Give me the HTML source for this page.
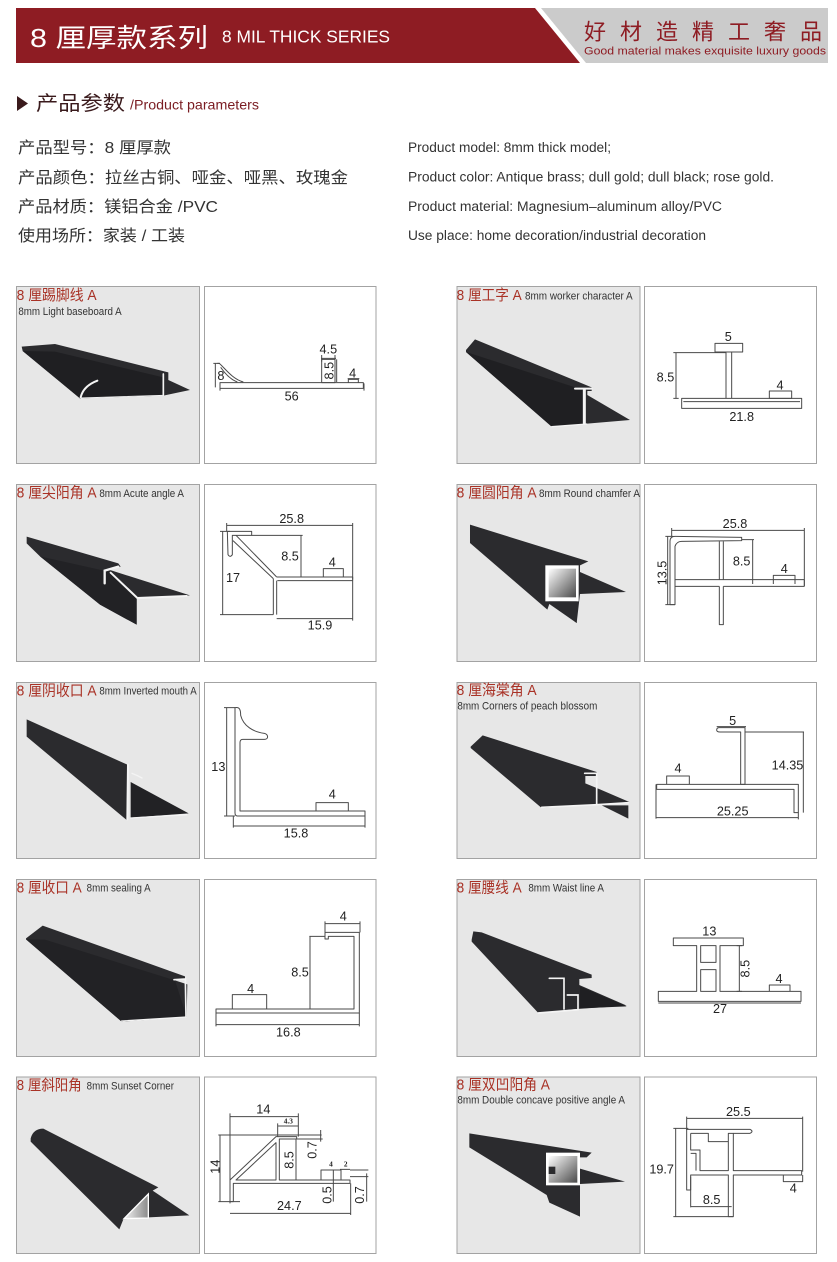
<!DOCTYPE html>
<html>
<head>
<meta charset="utf-8">
<style>
html,body{margin:0;padding:0;background:#fff;}
svg{display:block;}
.d{fill:none;stroke:#4a4a4a;stroke-width:3;stroke-linejoin:round;}
.t{font-family:"Liberation Sans",sans-serif;font-size:38px;fill:#222;}
.tt{font-family:"Liberation Sans","Noto Sans CJK SC",sans-serif;font-size:45px;fill:#a93226;}
.st{font-family:"Liberation Sans",sans-serif;font-size:32px;fill:#333;}
.ph{fill:#2b2b2e;}
.wh{fill:none;stroke:#f4f4f4;stroke-linecap:round;}
.sm{font-family:"Liberation Serif",serif;font-weight:bold;font-size:22px;fill:#222;}
</style>
</head>
<body>
<svg xmlns="http://www.w3.org/2000/svg" width="837" height="1262" viewBox="0 0 837 1262" font-family="'Liberation Sans','Noto Sans CJK SC',sans-serif">
<defs>
<linearGradient id="g1" x1="0" y1="0" x2="1" y2="1"><stop offset="0" stop-color="#ffffff"/><stop offset="1" stop-color="#4a4a4a"/></linearGradient>
<linearGradient id="g2" x1="0" y1="0" x2="1" y2="0"><stop offset="0" stop-color="#f2f2f2"/><stop offset="1" stop-color="#8a8a8a"/></linearGradient>
</defs>
<rect width="837" height="1262" fill="#fff"/>

<!-- Header -->
<polygon points="16,8 535,8 580,63 16,63" fill="#8e1c23"/>
<polygon points="541,8 828,8 828,63 586,63" fill="#cbcbcb"/>
<text x="30" y="47" font-family="'Liberation Sans','Noto Sans CJK SC',sans-serif" font-size="26" fill="#fff" textLength="178" lengthAdjust="spacingAndGlyphs">8 厘厚款系列</text>
<text x="222" y="42.7" font-family="'Liberation Sans',sans-serif" font-size="17.5" fill="#fff" textLength="168" lengthAdjust="spacingAndGlyphs">8 MIL THICK SERIES</text>
<text x="584" y="39.5" font-family="'Noto Sans CJK SC',sans-serif" font-size="22" fill="#8e1c23" textLength="238" lengthAdjust="spacing">好材造精工奢品</text>
<text x="584" y="54.3" font-family="'Liberation Sans',sans-serif" font-size="11" fill="#8e1c23" textLength="242" lengthAdjust="spacingAndGlyphs">Good material makes exquisite luxury goods</text>

<!-- Section heading -->
<polygon points="17,96 28,103.5 17,111" fill="#3a1a1c"/>
<text x="36" y="110" font-family="'Noto Sans CJK SC',sans-serif" font-size="20" fill="#3a1a1c" textLength="89" lengthAdjust="spacingAndGlyphs">产品参数</text>
<text x="130" y="109.5" font-family="'Liberation Sans',sans-serif" font-size="14" fill="#7a1c22" textLength="129" lengthAdjust="spacingAndGlyphs">/Product parameters</text>

<!-- Params -->
<g font-family="'Liberation Sans','Noto Sans CJK SC',sans-serif" font-size="16" fill="#333">
<text x="18" y="153" textLength="153" lengthAdjust="spacingAndGlyphs">产品型号：8 厘厚款</text>
<text x="18" y="183" textLength="330" lengthAdjust="spacingAndGlyphs">产品颜色：拉丝古铜、哑金、哑黑、玫瑰金</text>
<text x="18" y="212" textLength="200" lengthAdjust="spacingAndGlyphs">产品材质：镁铝合金 /PVC</text>
<text x="18" y="241" textLength="167" lengthAdjust="spacingAndGlyphs">使用场所：家装 / 工装</text>
</g>
<g font-family="'Liberation Sans',sans-serif" font-size="13.5" fill="#333">
<text x="408" y="152" textLength="203" lengthAdjust="spacingAndGlyphs">Product model: 8mm thick model;</text>
<text x="408" y="181.5" textLength="366" lengthAdjust="spacingAndGlyphs">Product color: Antique brass; dull gold; dull black; rose gold.</text>
<text x="408" y="211" textLength="314" lengthAdjust="spacingAndGlyphs">Product material: Magnesium–aluminum alloy/PVC</text>
<text x="408" y="240" textLength="298" lengthAdjust="spacingAndGlyphs">Use place: home decoration/industrial decoration</text>
</g>

<!-- Boxes -->
<g stroke="#a3a3a3" stroke-width="1">
<rect x="16.5" y="286.5" width="183" height="177" fill="#e7e7e7"/>
<rect x="204.5" y="286.5" width="171.5" height="177" fill="#fff"/>
<rect x="457" y="286.5" width="183" height="177" fill="#e7e7e7"/>
<rect x="644.5" y="286.5" width="172" height="177" fill="#fff"/>

<rect x="16.5" y="484.5" width="183" height="177" fill="#e7e7e7"/>
<rect x="204.5" y="484.5" width="171.5" height="177" fill="#fff"/>
<rect x="457" y="484.5" width="183" height="177" fill="#e7e7e7"/>
<rect x="644.5" y="484.5" width="172" height="177" fill="#fff"/>

<rect x="16.5" y="682.5" width="183" height="176" fill="#e7e7e7"/>
<rect x="204.5" y="682.5" width="171.5" height="176" fill="#fff"/>
<rect x="457" y="682.5" width="183" height="176" fill="#e7e7e7"/>
<rect x="644.5" y="682.5" width="172" height="176" fill="#fff"/>

<rect x="16.5" y="879.5" width="183" height="177" fill="#e7e7e7"/>
<rect x="204.5" y="879.5" width="171.5" height="177" fill="#fff"/>
<rect x="457" y="879.5" width="183" height="177" fill="#e7e7e7"/>
<rect x="644.5" y="879.5" width="172" height="177" fill="#fff"/>

<rect x="16.5" y="1077" width="183" height="176.5" fill="#e7e7e7"/>
<rect x="204.5" y="1077" width="171.5" height="176.5" fill="#fff"/>
<rect x="457" y="1077" width="183" height="176.5" fill="#e7e7e7"/>
<rect x="644.5" y="1077" width="172" height="176.5" fill="#fff"/>
</g>

<!-- ROW 1 LEFT -->
<g transform="translate(0,280) scale(0.333333)">
<text class="tt" x="50" y="60" textLength="240" lengthAdjust="spacingAndGlyphs">8 厘踢脚线 A</text>
<text class="st" x="55" y="105" textLength="310" lengthAdjust="spacingAndGlyphs">8mm Light baseboard A</text>
<polygon class="ph" points="65,200 165,192 505,277 505,300 570,330 490,347 240,355 68,213"/>
<polygon fill="#1f1f22" points="68,213 165,215 490,292 490,347 240,355"/>
<path class="wh" stroke-width="6" d="M292,302 Q250,318 242,352"/>
<path class="wh" stroke-width="5" d="M490,282 L490,345"/>
<path class="wh" stroke-width="3" d="M244,354 L490,346"/>
<!-- drawing -->
<rect class="d" x="660" y="308" width="430" height="17"/>
<path class="d" d="M652,250 L658,250 C676,266 696,296 730,306"/>
<path class="d" d="M662,262 C673,278 690,298 712,306"/>
<path class="d" d="M646,250 L646,322 M640,250 L660,250"/>
<text class="t" x="652" y="300" font-size="36">8</text>
<rect class="d" x="965" y="238" width="40" height="70"/>
<path class="d" d="M963,235 L1008,235 M965,225 L965,245 M1005,225 L1005,245 M1010,238 L1010,306"/>
<text class="t" x="985" y="220" text-anchor="middle" font-size="36">4.5</text>
<text class="t" transform="translate(1000,272) rotate(-90)" text-anchor="middle" font-size="34">8.5</text>
<path class="d" d="M1045,308 L1045,298 L1075,298 L1075,308 M1043,296 L1078,296"/>
<text class="t" x="1058" y="292" text-anchor="middle" font-size="36">4</text>
<path class="d" d="M660,310 L660,332 M1092,310 L1092,332"/>
<text class="t" x="875" y="362" text-anchor="middle" font-size="40">56</text>
</g>

<!-- ROW 1 RIGHT -->
<g transform="translate(440,280) scale(0.333333)">
<text class="tt" x="50" y="60" textLength="195" lengthAdjust="spacingAndGlyphs">8 厘工字 A</text>
<text class="st" x="255" y="58" textLength="323" lengthAdjust="spacingAndGlyphs">8mm worker character A</text>
<polygon class="ph" points="78,210 105,178 455,322 455,333 442,333 442,345 570,420 335,440 78,216"/>
<polygon fill="#1f1f22" points="78,216 335,440 430,432 430,330"/>
<path class="wh" stroke-width="6" d="M405,326 L455,326"/>
<path class="wh" stroke-width="9" d="M433,330 L433,430"/>
<path class="wh" stroke-width="4" d="M335,440 L440,432"/>
<!-- drawing -->
<path class="d" d="M708,218 L858,218 M708,218 L708,355 M700,218 L716,218 M700,355 L716,355"/>
<path class="d" d="M858,216 L858,355 M875,216 L875,355"/>
<rect class="d" x="825" y="190" width="83" height="26"/>
<rect class="d" x="725" y="355" width="360" height="30"/>
<path class="d" d="M730,365 L1080,365"/>
<rect class="d" x="988" y="333" width="67" height="22"/>
<text class="t" x="865" y="183" text-anchor="middle">5</text>
<text class="t" x="650" y="305">8.5</text>
<text class="t" x="1020" y="328" text-anchor="middle">4</text>
<text class="t" x="905" y="423" text-anchor="middle">21.8</text>
</g>

<!-- ROW 2 LEFT -->
<g transform="translate(0,478) scale(0.333333)">
<text class="tt" x="50" y="58" textLength="240" lengthAdjust="spacingAndGlyphs">8 厘尖阳角 A</text>
<text class="st" x="298" y="57" textLength="254" lengthAdjust="spacingAndGlyphs">8mm Acute angle A</text>
<polygon class="ph" points="80,176 355,256 362,266 330,276 570,352 410,362 410,440 300,380 120,235 80,196"/>
<polygon fill="#222225" points="330,282 410,362 410,440 300,380 120,235"/>
<path class="wh" stroke-width="7" d="M314,316 L314,278 L355,266"/>
<path class="wh" stroke-width="6" d="M332,284 L412,360 L560,354"/>
<!-- drawing -->
<path class="d" d="M680,142 L1058,142 M680,135 L680,160 M1058,135 L1058,305"/>
<path class="d" d="M668,160 L668,410 M660,160 L690,160 M660,410 L820,410"/>
<path class="d" d="M682,160 L755,160 L755,172 L697,172 L697,230 Q690,240 684,230 Z"/>
<path class="d" d="M708,172 L830,297 M699,188 L820,302"/>
<path class="d" d="M830,297 L1058,297 L1058,308 L832,308"/>
<path class="d" d="M820,302 L820,410 M830,308 L830,410"/>
<path class="d" d="M755,172 L908,172 M903,172 L903,297"/>
<text class="t" x="870" y="248" text-anchor="middle">8.5</text>
<path class="d" d="M970,297 L970,272 L1030,272 L1030,297"/>
<text class="t" x="997" y="265" text-anchor="middle">4</text>
<path class="d" d="M830,422 L1058,422 M1058,308 L1058,428"/>
<text class="t" x="960" y="455" text-anchor="middle">15.9</text>
<text class="t" x="875" y="135" text-anchor="middle">25.8</text>
<text class="t" x="678" y="312">17</text>
</g>

<!-- ROW 2 RIGHT -->
<g transform="translate(440,478) scale(0.333333)">
<text class="tt" x="50" y="58" textLength="240" lengthAdjust="spacingAndGlyphs">8 厘圆阳角 A</text>
<text class="st" x="297" y="57" textLength="303" lengthAdjust="spacingAndGlyphs">8mm Round chamfer A</text>
<polygon class="ph" points="90,140 445,250 420,262 420,282 558,342 420,348 410,435 328,378 322,395 90,195"/>
<rect x="316" y="262" width="100" height="108" fill="#fff"/>
<rect x="326" y="272" width="82" height="86" fill="url(#g1)"/>
<polygon class="ph" points="326,370 410,370 410,435"/>
<!-- drawing -->
<path class="d" d="M695,157 L1093,157 M695,150 L695,175 M1093,150 L1093,325"/>
<path class="d" d="M683,175 L683,380 M676,175 L700,175 M676,380 L705,380"/>
<text class="t" transform="translate(680,285) rotate(-90)" text-anchor="middle">13.5</text>
<path class="d" d="M690,380 L690,190 Q690,175 705,175 L905,178 L905,188 L725,190 Q710,190 705,205 L705,380 Z"/>
<path class="d" d="M838,190 L838,305 M850,190 L850,305"/>
<path class="d" d="M705,305 L1093,305 M705,325 L838,325 M850,325 L1093,325 M1093,305 L1093,325"/>
<path class="d" d="M838,325 L838,440 L850,440 L850,325"/>
<path class="d" d="M905,185 L942,185 M938,185 L938,318"/>
<text class="t" x="905" y="262" text-anchor="middle">8.5</text>
<path class="d" d="M1000,318 L1000,292 L1065,292 L1065,318"/>
<text class="t" x="1033" y="285" text-anchor="middle">4</text>
<text class="t" x="885" y="150" text-anchor="middle">25.8</text>
</g>

<!-- ROW 3 LEFT -->
<g transform="translate(0,676) scale(0.333333)">
<text class="tt" x="50" y="58" textLength="240" lengthAdjust="spacingAndGlyphs">8 厘阴收口 A</text>
<text class="st" x="298" y="55" textLength="292" lengthAdjust="spacingAndGlyphs">8mm Inverted mouth A</text>
<polygon class="ph" points="80,130 382,266 380,432 80,182"/>
<polygon fill="#222225" points="392,318 566,412 392,425"/>
<path class="wh" stroke-width="6" d="M384,266 L382,430"/>
<path class="wh" stroke-width="4" d="M396,292 Q412,298 426,306"/>
<path class="wh" stroke-width="4" d="M392,426 L560,416"/>
<!-- drawing -->
<path class="d" d="M680,95 L680,420 M672,95 L705,95 M672,420 L705,420"/>
<text class="t" x="655" y="285" text-anchor="middle">13</text>
<path class="d" d="M705,95 C718,92 722,100 722,118 C730,150 760,168 793,172 C806,176 806,190 793,190 L728,190 C722,190 720,195 720,200 L720,405 L1095,405 L1095,420 L712,420 C706,420 705,415 705,410 Z"/>
<path class="d" d="M948,405 L948,380 L1045,380 L1045,405"/>
<text class="t" x="997" y="368" text-anchor="middle">4</text>
<path class="d" d="M700,450 L1095,450 M700,420 L700,455 M1095,420 L1095,455"/>
<text class="t" x="888" y="485" text-anchor="middle">15.8</text>
</g>

<!-- ROW 3 RIGHT -->
<g transform="translate(440,676) scale(0.333333)">
<text class="tt" x="50" y="57" textLength="240" lengthAdjust="spacingAndGlyphs">8 厘海棠角 A</text>
<text class="st" x="52" y="100" textLength="420" lengthAdjust="spacingAndGlyphs">8mm Corners of peach blossom</text>
<polygon class="ph" points="92,212 128,178 470,288 470,300 436,300 436,322 480,340 568,378 470,386 305,396 92,216"/>
<polygon class="ph" points="485,388 565,388 565,428"/>
<path class="wh" stroke-width="5" d="M434,292 L470,292 L470,384"/>
<path class="wh" stroke-width="5" d="M305,394 L470,386 L565,380"/>
<!-- drawing -->
<path class="d" d="M838,155 L915,155 L915,325 L902,325 L902,168 L840,168 Q830,168 830,162 Q830,155 838,155 Z"/>
<path class="d" d="M830,152 L918,152"/>
<text class="t" x="878" y="147" text-anchor="middle">5</text>
<path class="d" d="M915,168 L1092,168 M1090,168 L1090,410"/>
<text class="t" x="995" y="280">14.35</text>
<path class="d" d="M650,325 L1075,325 L1075,410 L1062,410 L1062,340 L650,340 Z"/>
<path class="d" d="M648,325 L648,428"/>
<path class="d" d="M680,325 L680,300 L748,300 L748,325"/>
<text class="t" x="714" y="290" text-anchor="middle">4</text>
<path class="d" d="M648,425 L1075,425 M1075,410 L1075,430"/>
<text class="t" x="878" y="418" text-anchor="middle">25.25</text>
</g>

<!-- ROW 4 LEFT -->
<g transform="translate(0,873) scale(0.333333)">
<text class="tt" x="50" y="58" textLength="195" lengthAdjust="spacingAndGlyphs">8 厘收口 A</text>
<text class="st" x="260" y="56" textLength="192" lengthAdjust="spacingAndGlyphs">8mm sealing A</text>
<polygon class="ph" points="78,196 128,158 555,310 555,320 525,322 562,334 560,432 365,446 78,199"/>
<polygon fill="#222225" points="78,199 365,446 560,432 525,322 135,200"/>
<path class="wh" stroke-width="5" d="M522,320 L556,318 L558,430"/>
<path class="wh" stroke-width="4" d="M365,444 L558,432"/>
<!-- drawing -->
<path class="d" d="M975,152 L1080,152 M975,145 L975,178 M1080,145 L1080,178"/>
<text class="t" x="1030" y="143" text-anchor="middle">4</text>
<path class="d" d="M975,178 L1078,178 L1078,420 L648,420 L648,408 L1062,408 L1062,190 L985,190 L985,198 L975,198 Z"/>
<path class="d" d="M928,190 L975,190 M930,190 L930,408"/>
<text class="t" x="900" y="310" text-anchor="middle">8.5</text>
<path class="d" d="M697,408 L697,365 L800,365 L800,408"/>
<text class="t" x="752" y="360" text-anchor="middle">4</text>
<path class="d" d="M648,455 L1078,455 M648,420 L648,460 M1078,420 L1078,460"/>
<text class="t" x="865" y="490" text-anchor="middle">16.8</text>
</g>

<!-- ROW 4 RIGHT -->
<g transform="translate(440,873) scale(0.333333)">
<text class="tt" x="50" y="58" textLength="195" lengthAdjust="spacingAndGlyphs">8 厘腰线 A</text>
<text class="st" x="265" y="56" textLength="227" lengthAdjust="spacingAndGlyphs">8mm Waist line A</text>
<polygon class="ph" points="95,200 100,175 125,178 455,305 455,315 418,318 418,336 560,398 410,408 295,420 95,206"/>
<polygon fill="#1f1f22" points="420,340 560,400 420,406"/>
<path class="wh" stroke-width="5" d="M328,316 L372,316 L372,408 M382,366 L414,366 L414,410 M295,420 L415,410"/>
<!-- drawing -->
<path class="d" d="M700,195 L910,195 L910,218 L840,218 L840,355 L1083,355 L1083,385 L655,385 L655,355 L770,355 L770,218 L700,218 Z"/>
<rect class="d" x="782" y="218" width="46" height="50"/>
<rect class="d" x="782" y="290" width="46" height="65"/>
<text class="t" x="808" y="188" text-anchor="middle">13</text>
<path class="d" d="M898,218 L898,355 M890,218 L906,218 M890,355 L906,355"/>
<text class="t" transform="translate(928,287) rotate(-90)" text-anchor="middle">8.5</text>
<path class="d" d="M988,355 L988,336 L1050,336 L1050,355"/>
<text class="t" x="1017" y="330" text-anchor="middle">4</text>
<path class="d" d="M655,390 L1083,390"/>
<text class="t" x="840" y="420" text-anchor="middle">27</text>
</g>

<!-- ROW 5 LEFT -->
<g transform="translate(0,1070) scale(0.333333)">
<text class="tt" x="50" y="60" textLength="195" lengthAdjust="spacingAndGlyphs">8 厘斜阳角</text>
<text class="st" x="260" y="58" textLength="262" lengthAdjust="spacingAndGlyphs">8mm Sunset Corner</text>
<path class="ph" d="M92,205 Q100,176 130,176 L475,352 L458,362 L568,436 L445,442 L370,448 L358,478 L92,215 Z"/>
<polygon points="372,446 445,372 445,444" fill="url(#g2)" stroke="#fff" stroke-width="4"/>
<!-- drawing -->
<path class="d" d="M690,140 L895,140 M690,130 L690,400 M895,130 L895,200"/>
<text class="t" x="790" y="130" text-anchor="middle">14</text>
<path class="d" d="M833,168 L895,168 M833,160 L833,200"/>
<text class="sm" x="865" y="160" text-anchor="middle">4.3</text>
<path class="d" d="M655,195 L965,195"/>
<path class="d" d="M660,195 L660,395 M655,395 L720,395"/>
<text class="t" transform="translate(658,290) rotate(-90)" text-anchor="middle">14</text>
<path class="d" d="M690,395 L690,330 L828,200 L890,200 L890,207 L838,207 L838,330 L1050,330 L1050,340 L700,340 L700,395 Z"/>
<path class="d" d="M708,330 L828,218 L828,330 Z"/>
<path class="d" d="M888,207 L888,330"/>
<text class="t" transform="translate(880,270) rotate(-90)" text-anchor="middle">8.5</text>
<path class="d" d="M962,180 L962,215 M890,207 L968,207"/>
<text class="t" transform="translate(950,240) rotate(-90)" text-anchor="middle" font-size="36">0.7</text>
<path class="d" d="M963,330 L963,300 L1023,300 L1023,330"/>
<text class="sm" x="993" y="290" text-anchor="middle">4</text>
<text class="sm" x="1037" y="290" text-anchor="middle">2</text>
<path class="d" d="M1020,298 L1050,298 M1050,300 L1105,300 M1050,320 L1105,320 M1000,300 L1000,395 M1100,310 L1100,395"/>
<text class="t" transform="translate(995,375) rotate(-90)" text-anchor="middle" font-size="36">0.5</text>
<text class="t" transform="translate(1092,375) rotate(-90)" text-anchor="middle" font-size="36">0.7</text>
<path class="d" d="M690,430 L1052,430 M1052,340 L1052,435"/>
<text class="t" x="868" y="420" text-anchor="middle">24.7</text>
</g>

<!-- ROW 5 RIGHT -->
<g transform="translate(440,1070) scale(0.333333)">
<text class="tt" x="50" y="58" textLength="280" lengthAdjust="spacingAndGlyphs">8 厘双凹阳角 A</text>
<text class="st" x="52" y="100" textLength="503" lengthAdjust="spacingAndGlyphs">8mm Double concave positive angle A</text>
<polygon class="ph" points="88,190 455,248 440,262 420,262 420,296 555,335 420,342 420,440 328,398 320,375 88,232"/>
<rect x="318" y="248" width="102" height="98" fill="#fff"/>
<rect x="326" y="258" width="86" height="80" fill="url(#g1)"/>
<rect x="326" y="290" width="20" height="22" fill="#2b2b2e"/>
<polygon class="ph" points="326,352 420,352 420,440"/>
<!-- drawing -->
<path class="d" d="M740,145 L1088,145 M740,140 L740,180 M1088,140 L1088,305"/>
<text class="t" x="895" y="138" text-anchor="middle">25.5</text>
<path class="d" d="M707,175 L707,440 M700,175 L745,175 M700,440 L880,440"/>
<text class="t" x="628" y="310">19.7</text>
<path class="d" d="M740,178 L930,178 Q942,184 930,190 L880,190 L880,302 L1085,302 L1085,315 L880,315 L880,440 L865,440 L865,315 L752,315 L752,360 L740,360 Z"/>
<path class="d" d="M752,190 L805,190 L805,215 L865,215 L865,190 L880,190 M752,190 L752,240 L780,240 L780,302 L865,302 L865,215 M752,250 L768,250 L768,302"/>
<path class="d" d="M1030,315 L1030,335 L1088,335 L1088,315"/>
<text class="t" x="1060" y="368" text-anchor="middle">4</text>
<path class="d" d="M752,410 L875,410 M752,320 L752,412"/>
<text class="t" x="815" y="402" text-anchor="middle">8.5</text>
</g>
</svg>
</body>
</html>
